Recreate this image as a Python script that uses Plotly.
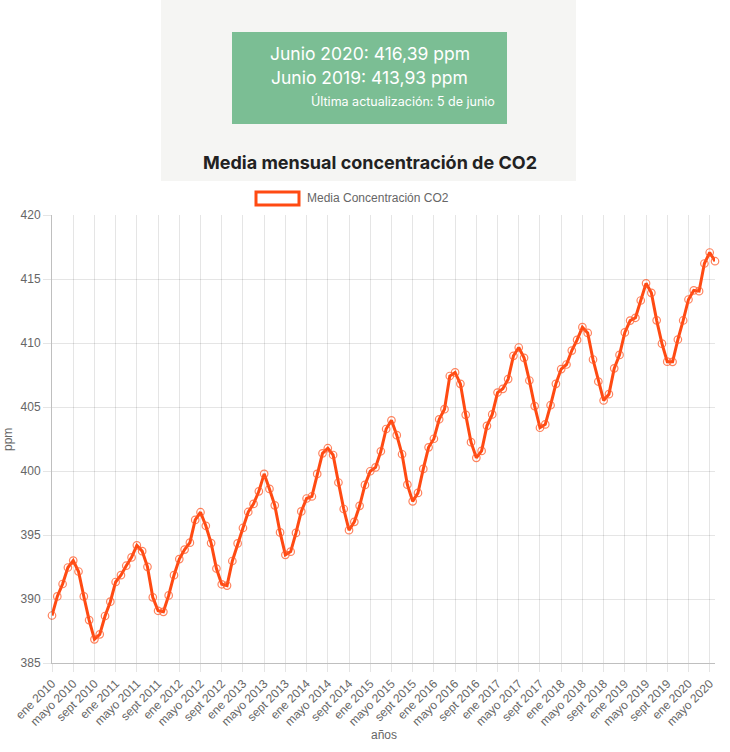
import plotly.graph_objects as go

# ---------------- data ----------------
month_names = ["ene", "feb", "mar", "abr", "mayo", "jun", "jul", "ago", "sept", "oct", "nov", "dic"]
years = list(range(2010, 2021))

co2_2010 = [388.71, 390.20, 391.17, 392.46, 393.00, 392.15, 390.20, 388.35, 386.85, 387.24, 388.67, 389.79]
co2_2011 = [391.33, 391.86, 392.60, 393.25, 394.19, 393.74, 392.51, 390.13, 389.08, 389.00, 390.28, 391.86]
co2_2012 = [393.12, 393.86, 394.40, 396.18, 396.78, 395.72, 394.37, 392.38, 391.15, 391.05, 392.97, 394.34]
co2_2013 = [395.55, 396.80, 397.43, 398.41, 399.78, 398.60, 397.32, 395.20, 393.45, 393.70, 395.16, 396.84]
co2_2014 = [397.85, 398.01, 399.77, 401.38, 401.78, 401.25, 399.10, 397.03, 395.38, 396.03, 397.28, 398.91]
co2_2015 = [399.98, 400.28, 401.54, 403.28, 403.96, 402.80, 401.31, 398.93, 397.63, 398.29, 400.16, 401.85]
co2_2016 = [402.52, 404.04, 404.83, 407.42, 407.70, 406.81, 404.39, 402.25, 401.03, 401.57, 403.53, 404.42]
co2_2017 = [406.13, 406.42, 407.18, 409.00, 409.65, 408.84, 407.07, 405.07, 403.38, 403.64, 405.14, 406.81]
co2_2018 = [407.96, 408.32, 409.41, 410.24, 411.24, 410.79, 408.71, 406.99, 405.51, 406.00, 408.02, 409.07]
co2_2019 = [410.83, 411.75, 411.97, 413.32, 414.66, 413.92, 411.77, 409.95, 408.54, 408.53, 410.27, 411.76]
co2_2020 = [413.40, 414.11, 414.05, 416.21, 417.07, 416.39]

series_by_year = [co2_2010, co2_2011, co2_2012, co2_2013, co2_2014, co2_2015,
                  co2_2016, co2_2017, co2_2018, co2_2019, co2_2020]

labels = []
values = []
for yr, vals in zip(years, series_by_year):
    for m, v in zip(month_names, vals):
        labels.append(f"{m} {yr}")
        values.append(v)

tick_labels = labels[::4]

header_lines = ["Junio 2020: 416,39 ppm", "Junio 2019: 413,93 ppm"]
update_text = "Última actualización: 5 de junio"
chart_title = "Media mensual concentración de CO2"
series_name = "Media Concentración CO2"

# ---------------- layout helpers (pixels -> paper) ----------------
W_PAGE, H_PAGE = 730, 752
L, R, T, B = 52, 715, 215, 663
PW, PH = R - L, B - T


def px(x):
    return (x - L) / PW


def py(y):
    return (B - y) / PH


LINE_COLOR = "#ff4a12"
TXT = "#666666"
GRID = "rgba(0,0,0,0.1)"
CJ_FONT = "Liberation Sans, Arial, Helvetica, sans-serif"
TOP_FONT = "Inter, Roboto, sans-serif"

fig = go.Figure()
fig.add_trace(go.Scatter(
    x=labels, y=values, mode="lines+markers", name=series_name,
    line=dict(color=LINE_COLOR, width=3),
    marker=dict(symbol="circle-open", size=7.5, color="rgba(255,90,40,0.75)",
                line=dict(width=1.2, color="rgba(255,90,40,0.75)")),
    cliponaxis=False, showlegend=False,
))

shapes = [
    dict(type="rect", xref="paper", yref="paper", x0=px(161), x1=px(576), y0=py(181), y1=py(0),
         fillcolor="#f5f5f3", line=dict(width=0), layer="below"),
    dict(type="rect", xref="paper", yref="paper", x0=px(232), x1=px(507), y0=py(124), y1=py(32),
         fillcolor="#7bbe94", line=dict(width=0)),
    dict(type="rect", xref="paper", yref="paper", x0=px(256), x1=px(299), y0=py(205), y1=py(192),
         fillcolor="white", line=dict(width=3, color=LINE_COLOR)),
]

annotations = [
    dict(text=header_lines[0], x=px(369.5), y=py(53), xref="paper", yref="paper",
         showarrow=False, xanchor="center", yanchor="middle",
         font=dict(family=TOP_FONT, size=17.5, color="white")),
    dict(text=header_lines[1], x=px(369.5), y=py(77), xref="paper", yref="paper",
         showarrow=False, xanchor="center", yanchor="middle",
         font=dict(family=TOP_FONT, size=17.5, color="white")),
    dict(text=update_text, x=px(497), y=py(101), xref="paper", yref="paper",
         showarrow=False, xanchor="right", yanchor="middle",
         font=dict(family=TOP_FONT, size=12.5, color="white")),
    dict(text=f"<b>{chart_title}</b>", x=px(369.5), y=py(162), xref="paper", yref="paper",
         showarrow=False, xanchor="center", yanchor="middle",
         font=dict(family=TOP_FONT, size=18, color="#222222")),
    dict(text=series_name, x=px(305), y=py(198), xref="paper", yref="paper",
         showarrow=False, xanchor="left", yanchor="middle",
         font=dict(family=CJ_FONT, size=12, color=TXT)),
    dict(text="ppm", x=px(8), y=py(440), xref="paper", yref="paper",
         showarrow=False, xanchor="center", yanchor="middle", textangle=-90,
         font=dict(family=CJ_FONT, size=12, color=TXT)),
    dict(text="años", x=px(384), y=py(735), xref="paper", yref="paper",
         showarrow=False, xanchor="center", yanchor="middle",
         font=dict(family=CJ_FONT, size=12, color=TXT)),
]

fig.update_layout(
    width=W_PAGE, height=H_PAGE,
    margin=dict(l=L, r=W_PAGE - R, t=T, b=H_PAGE - B, pad=0),
    paper_bgcolor="white", plot_bgcolor="white",
    shapes=shapes, annotations=annotations, showlegend=False,
    xaxis=dict(type="category", categoryorder="array", categoryarray=labels,
               range=[0, len(labels) - 1], tickmode="array", tickvals=tick_labels,
               ticktext=tick_labels, tickangle=-45, showgrid=True, gridcolor=GRID,
               ticks="outside", ticklen=8, tickcolor=GRID, showline=True,
               linecolor="rgba(0,0,0,0.25)", zeroline=False,
               tickfont=dict(family=CJ_FONT, size=12, color=TXT)),
    yaxis=dict(range=[385, 420], dtick=5, tick0=385, showgrid=True, gridcolor=GRID,
               ticks="outside", ticklen=8, tickcolor=GRID, showline=True,
               linecolor="rgba(0,0,0,0.25)", zeroline=False,
               tickfont=dict(family=CJ_FONT, size=12, color=TXT)),
)

fig.write_html("out.html")
